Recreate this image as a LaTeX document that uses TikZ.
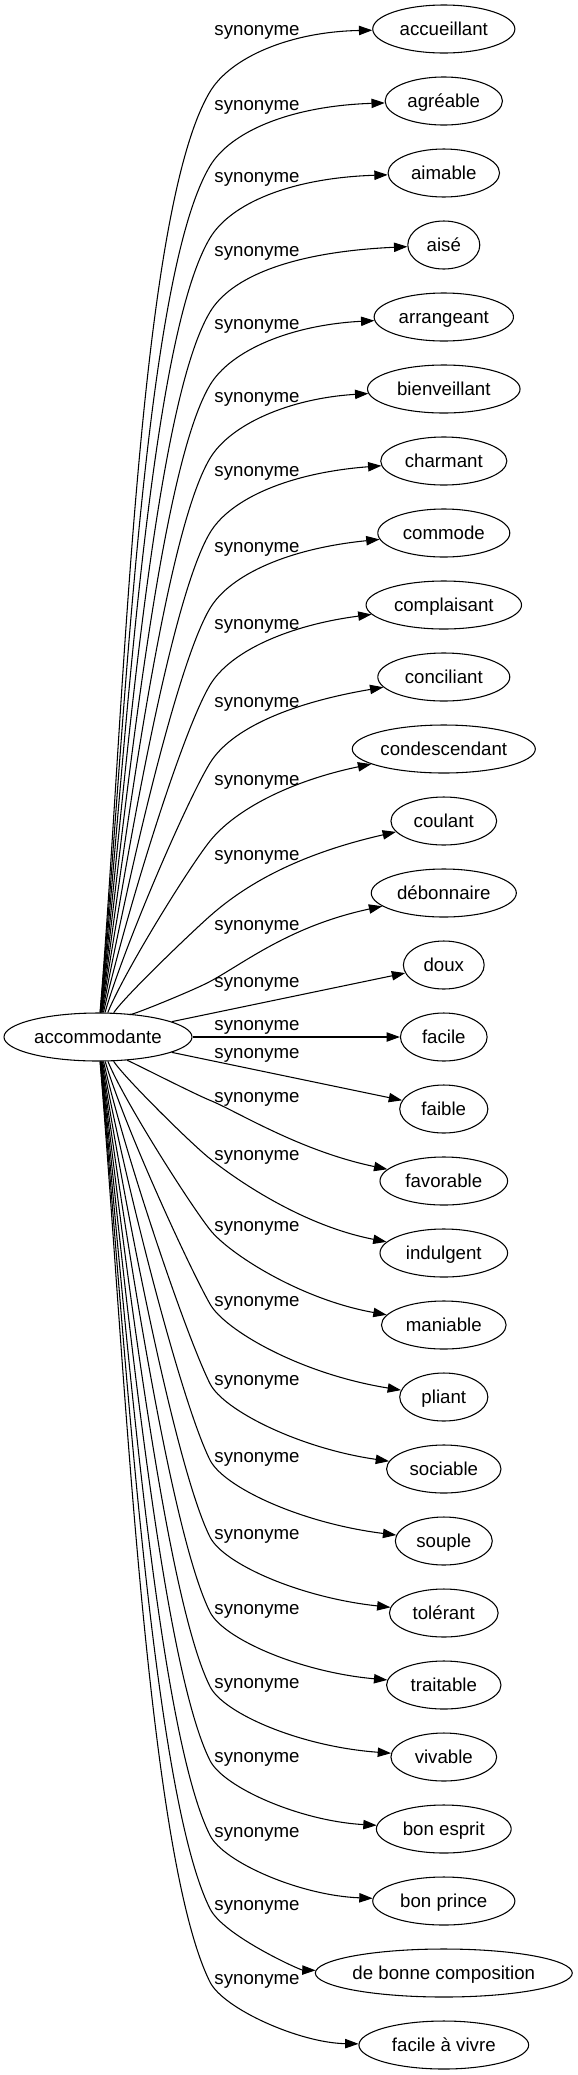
\documentclass[tikz,border=0pt]{standalone}
\usepackage{fontspec}
\setmainfont{Liberation Sans}
\usetikzlibrary{arrows.meta,shapes.geometric,calc}
\begin{document}
\begin{tikzpicture}[x=0.75pt,y=-0.75pt,
  tnode/.style={ellipse, draw, line width=0.8pt, minimum height=36pt, inner sep=0pt,
    text height=10pt, text depth=0.5pt, font=\fontsize{14}{16}\selectfont},
  lab/.style={inner sep=0pt, anchor=base, font=\fontsize{14}{16}\selectfont},
  edge/.style={line width=0.8pt, -{Triangle[length=10pt,width=7pt]}}]
\useasboundingbox (0,0) rectangle (578,2075);
\node[tnode, minimum width=141pt] (src) at (98,1037) {\makebox[0pt]{accommodante}};
\foreach \i/\txt/\ly/\ew in {0/accueillant/31.7/106.6, 1/agréable/106/88.0, 2/aimable/178/83.6,
  3/aisé/252/54, 4/arrangeant/325/104.5, 5/bienveillant/398.3/114.4, 6/charmant/472.7/94.6,
  7/commode/548.3/99.0, 8/complaisant/625/116.6, 9/conciliant/703/99.0, 10/condescendant/781/137.3,
  11/coulant/856/79.3, 12/débonnaire/926/108.8, 13/doux/983.3/60.6, 14/facile/1026/65.0,
  15/faible/1054.5/66.1, 16/favorable/1098.3/95.7, 17/indulgent/1156.7/95.7, 18/maniable/1227.7/93.5,
  19/pliant/1302/66.1, 20/sociable/1381.6/85.8, 21/souple/1458/72.7, 22/tolérant/1535/81.5,
  23/traitable/1610/85.8, 24/vivable/1684.5/79.3, 25/bon esprit/1758.5/101.1, 26/bon prince/1833.3/106.6,
  27/de bonne composition/1906.7/192.7, 28/facile à vivre/1980/127.3}{
  \node[tnode, minimum width=\ew pt] (n\i) at (443.8,{29+72*\i}) {\makebox[0pt]{\txt}};
  \node[lab] (l\i) at (257,\ly+4) {synonyme};
}
% upper edges
\foreach \i/\ly in {0/31.7, 1/106, 2/178, 3/252, 4/325, 5/398.3, 6/472.7, 7/548.3,
  8/625, 9/703, 10/781, 11/856, 12/926}{
  \pgfmathsetmacro\myD{1037-\ly}
  \pgfmathsetmacro\myH{min(60,0.5*\myD)}
  \pgfmathsetmacro\myVy{\ly+\myH}
  \pgfmathsetmacro\myS{min(1.67,\myD/205)}
  \pgfmathsetmacro\myN{sqrt(1+\myS*\myS)}
  \pgfmathsetmacro\myUx{1/\myN}
  \pgfmathsetmacro\myUy{-\myS/\myN}
  \pgfmathsetmacro\myL{10*veclen(11.2,(\myVy-1037)/10)}
  \pgfmathsetmacro\myPay{1037+0.33*(\myVy-1037)}
  \pgfmathsetmacro\myPbx{210-0.15*\myL*\myUx}
  \pgfmathsetmacro\myPby{\myVy-0.15*\myL*\myUy}
  \pgfmathsetmacro\myQax{210+40*\myUx}
  \pgfmathsetmacro\myQay{\myVy+40*\myUy}
  \draw[edge] (src) .. controls (123.9,\myPay) and (\myPbx,\myPby) .. (210,\myVy)
    .. controls (\myQax,\myQay) and (290,\ly) .. (n\i);
}
% straight edges
\draw[edge] (src) -- (n13);
\draw[edge] (src) -- (n14);
\draw[edge] (src) -- (n15);
% lower edges
\foreach \i/\ly in {16/1098.3, 17/1156.7, 18/1227.7, 19/1302, 20/1381.6, 21/1458,
  22/1535, 23/1610, 24/1684.5, 25/1758.5, 26/1833.3, 27/1906.7, 28/1980}{
  \pgfmathsetmacro\myD{\ly-1037}
  \pgfmathsetmacro\myVy{\ly+2}
  \pgfmathsetmacro\myS{min(2,\myD/150)}
  \pgfmathsetmacro\myN{sqrt(1+\myS*\myS)}
  \pgfmathsetmacro\myUx{1/\myN}
  \pgfmathsetmacro\myUy{\myS/\myN}
  \pgfmathsetmacro\myL{10*veclen(11.2,(\myVy-1037)/10)}
  \pgfmathsetmacro\myPay{1037+0.33*(\myVy-1037)}
  \pgfmathsetmacro\myPbx{210-0.15*\myL*\myUx}
  \pgfmathsetmacro\myPby{\myVy-0.15*\myL*\myUy}
  \pgfmathsetmacro\myQax{210+30*\myUx}
  \pgfmathsetmacro\myQay{\myVy+30*\myUy}
  \pgfmathsetmacro\myQby{29+72*\i-max(2,32-\myD/30)}
  \draw[edge] (src) .. controls (123.9,\myPay) and (\myPbx,\myPby) .. (210,\myVy)
    .. controls (\myQax,\myQay) and (300,\myQby) .. (n\i);
}
\end{tikzpicture}
\end{document}
